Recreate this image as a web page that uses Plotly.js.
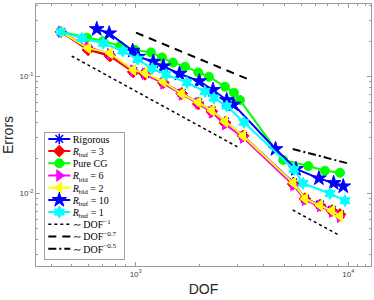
<!DOCTYPE html>
<html><head><meta charset="utf-8">
<script src="https://cdn.plot.ly/plotly-3.0.1.min.js"></script>
<style>html,body{margin:0;padding:0;background:#fff}#chart{width:374px;height:300px}</style>
</head><body><div id="chart"></div><script>
// DOF values
const dofLow = [445, 597, 757, 974, 1106, 1349, 1646, 1970, 2279, 2631, 3198, 5510, 6252, 7362, 8380, 9141];
const dofCG = [445, 590, 702, 844, 993, 1180, 1330, 1497, 1706, 1970, 2212, 2631, 2900, 3095, 4943, 6486, 7767, 9141];
const dofBuf10 = [656, 751, 968, 1028, 1210, 1349, 1607, 1990, 2310, 2680, 2884, 4547, 5675, 7278, 8537, 9474];
const dofBuf1 = [445, 557, 704, 869, 1022, 1197, 1388, 1742, 2118, 2335, 2680, 3230, 5554, 6124, 8205, 9650];
// errors
const errRig = [0.240, 0.172, 0.152, 0.111, 0.105, 0.089, 0.072, 0.060, 0.051, 0.041, 0.031, 0.0124, 0.0090, 0.0080, 0.0072, 0.0066];
const errBuf3 = [0.240, 0.168, 0.149, 0.109, 0.104, 0.088, 0.071, 0.058, 0.050, 0.040, 0.031, 0.0120, 0.0090, 0.0079, 0.0071, 0.0066];
const errCG = [0.240, 0.214, 0.200, 0.182, 0.168, 0.160, 0.145, 0.131, 0.121, 0.108, 0.0992, 0.0815, 0.0724, 0.0627, 0.0193, 0.0171, 0.0156, 0.0150];
const errBld6 = [0.240, 0.178, 0.155, 0.112, 0.105, 0.087, 0.070, 0.059, 0.049, 0.039, 0.030, 0.0118, 0.0088, 0.0078, 0.0070, 0.0063];
const errBld2 = [0.240, 0.174, 0.158, 0.113, 0.107, 0.090, 0.071, 0.060, 0.051, 0.041, 0.031, 0.0123, 0.0090, 0.0079, 0.0071, 0.0064];
const errBuf10 = [0.2535, 0.233, 0.1655, 0.147, 0.1333, 0.1218, 0.1052, 0.0908, 0.0764, 0.0627, 0.0574, 0.0239, 0.01614, 0.01343, 0.01225, 0.01148];
const errBuf1 = [0.240, 0.2113, 0.1915, 0.1645, 0.1398, 0.1166, 0.1036, 0.0885, 0.0741, 0.0652, 0.0557, 0.0405, 0.0160, 0.01218, 0.00996, 0.00865];
// reference slopes
const ref1X = [500, 3006, null, 5478, 8913];
const ref1Y = [0.149, 0.0250, null, 0.00720, 0.00446];
const ref07X = [1003, 3513];
const ref07Y = [0.236, 0.0917];
const ref05X = [5478, 9937];
const ref05Y = [0.0239, 0.01805];
// labels
const names = ['Rigorous', '<i>R</i><sub>buf</sub> = 3', 'Pure CG', '<i>R</i><sub>bld</sub> = 6', '<i>R</i><sub>bld</sub> = 2', '<i>R</i><sub>buf</sub> = 10', '<i>R</i><sub>buf</sub> = 1', '∼ DOF<sup>−1</sup>', '∼ DOF<sup>−0.7</sup>', '∼ DOF<sup>−0.5</sup>'];
const xTickVals = [1000, 10000];
const xTickText = ['10<sup>3</sup>', '10<sup>4</sup>'];
const yTickVals = [0.01, 0.1];
const yTickText = ['10<sup>-2</sup>', '10<sup>-1</sup>'];
const xMinor = [400,500,600,700,800,900,2000,3000,4000,5000,6000,7000,8000,9000,11000,12000];
const yMinor = [0.003,0.004,0.005,0.006,0.007,0.008,0.009,0.02,0.03,0.04,0.05,0.06,0.07,0.08,0.09,0.2,0.3,0.4];

function ser(x, y, name, color, symbol, size, lw) {
  return {x: x, y: y, name: name, type: 'scatter', mode: 'lines+markers',
    line: {color: color, width: 2},
    marker: {color: color, symbol: symbol, size: size, line: {color: color, width: lw || 1}}};
}
const traces = [
  ser(dofLow, errRig, names[0], '#0000ff', 'asterisk-open', 9, 1.5),
  ser(dofLow, errBuf3, names[1], '#ff0000', 'diamond', 9),
  ser(dofCG, errCG, names[2], '#00ff00', 'circle', 9),
  ser(dofLow, errBld6, names[3], '#ff00ff', 'triangle-right', 10),
  ser(dofLow, errBld2, names[4], '#ffff00', 'triangle-left', 10),
  ser(dofBuf10, errBuf10, names[5], '#0000ff', 'star', 11),
  ser(dofBuf1, errBuf1, names[6], '#00ffff', 'hexagram', 9),
  {x: ref1X, y: ref1Y, name: names[7], type: 'scatter', mode: 'lines', connectgaps: false, line: {color: '#000', width: 1.5, dash: 'dot'}},
  {x: ref07X, y: ref07Y, name: names[8], type: 'scatter', mode: 'lines', line: {color: '#000', width: 2, dash: '8px,6px'}},
  {x: ref05X, y: ref05Y, name: names[9], type: 'scatter', mode: 'lines', line: {color: '#000', width: 2, dash: '8px,3px,2px,3px'}}
];
const axBase = {showgrid: false, zeroline: false, showline: true, linecolor: '#9a9a9a', linewidth: 1,
  mirror: 'ticks', ticks: 'inside', ticklen: 4, tickcolor: '#9a9a9a', automargin: false,
  tickfont: {family: 'Liberation Sans', size: 8, color: '#444'}};
const layout = {
  width: 374, height: 300, margin: {l: 36, r: 3, t: 4, b: 34, autoexpand: false},
  paper_bgcolor: '#fff', plot_bgcolor: '#fff', showlegend: true,
  xaxis: Object.assign({}, axBase, {type: 'log', range: [2.531, 4.107], tickmode: 'array', tickvals: xTickVals, ticktext: xTickText,
    minor: {tickmode: 'array', tickvals: xMinor, ticklen: 2, tickcolor: '#9a9a9a', ticks: 'inside'},
    title: {text: 'DOF', font: {family: 'Liberation Sans', size: 14, color: '#262626'}, standoff: 6}}),
  yaxis: Object.assign({}, axBase, {type: 'log', range: [-2.621, -0.382], tickmode: 'array', tickvals: yTickVals, ticktext: yTickText,
    minor: {tickmode: 'array', tickvals: yMinor, ticklen: 2, tickcolor: '#9a9a9a', ticks: 'inside'},
    title: {text: 'Errors', font: {family: 'Liberation Sans', size: 14, color: '#262626'}, standoff: 4}}),
  legend: {x: 0.0, y: 1, xanchor: 'left', yanchor: 'top', bgcolor: '#fff', bordercolor: '#a0a0a0', borderwidth: 1,
    font: {family: 'Liberation Serif', size: 10, color: '#000'}, tracegroupgap: 0, itemwidth: 30}
};
Plotly.newPlot('chart', traces, layout, {staticPlot: true, displayModeBar: false}).then(function (gd) {
  const lg = gd.querySelector('.legend');
  if (!lg) return;
  // compact the legend to the reference's row spacing and sample length
  const W = 79.7, H = 126.4, ROW = 12.2, TOP = 6.6;
  lg.setAttribute('transform', 'translate(44.3,132.3)');
  const bg = lg.querySelector('rect.bg');
  if (bg) { bg.setAttribute('width', W); bg.setAttribute('height', H); }
  lg.querySelectorAll('clipPath rect, .scrollbox rect').forEach(function (r) {
    if (r !== bg) { r.setAttribute('width', W); r.setAttribute('height', H); }
  });
  const items = lg.querySelectorAll('g.traces');
  items.forEach(function (it, i) {
    it.setAttribute('transform', 'translate(1,' + (TOP + i * ROW) + ')');
    it.querySelectorAll('path.js-line').forEach(function (p) { p.setAttribute('d', 'M3,0h22'); });
    it.querySelectorAll('g.legendpoints path.scatterpts').forEach(function (p) { p.setAttribute('transform', 'translate(14,0)'); });
    const t = it.querySelector('text.legendtext');
    if (t) {
      const shift = -12.6;
      [t].concat(Array.from(t.querySelectorAll('tspan[x]'))).forEach(function (e) {
        const x = parseFloat(e.getAttribute('x'));
        if (!isNaN(x)) e.setAttribute('x', x + shift);
      });
    }
  });
});
</script></body></html>
